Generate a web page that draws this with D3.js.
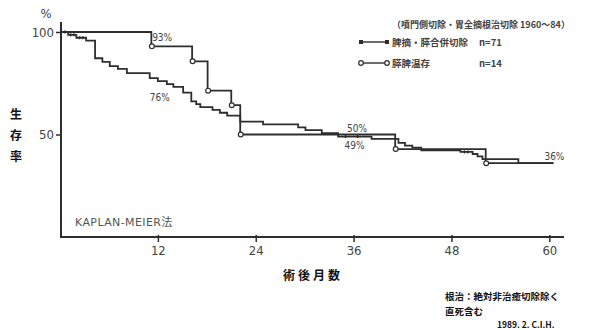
<!DOCTYPE html>
<html>
<head>
<meta charset="utf-8">
<script src="https://cdn.jsdelivr.net/npm/d3@7"></script>
<style>
  html, body { margin: 0; padding: 0; background: #fff; }
  svg { display: block; }
  .num { font-family: "DejaVu Sans Condensed", "Liberation Sans Narrow", "DejaVu Sans", sans-serif; font-stretch: condensed; fill: #444; }
  .jp { font-family: "Noto Sans CJK JP", sans-serif; font-weight: 700; fill: #111; }
  .jpg { font-family: "Noto Sans CJK JP", sans-serif; font-weight: 700; fill: #444; }
</style>
</head>
<body>
<svg id="chart" width="592" height="330"></svg>
<script>
// Kaplan-Meier survival after resection (months, survival %)
const xTicks = [12, 24, 36, 48, 60];
const yTicks = [100, 50];

// 脾摘・膵合併切除 n=71 : [month of step, survival % after step]
const filledSteps = [
  [0, 100], [1.0, 98.6], [2.0, 97.2], [3.2, 95.8], [4.3, 87.2], [5.2, 85.4],
  [6.1, 83.4], [7.1, 82.0], [8.2, 79.9], [11.0, 77.5], [12.0, 76.0],
  [13.1, 74.6], [13.9, 73.2], [15.1, 70.4], [16.1, 66.2], [16.7, 64.8],
  [17.2, 63.4], [18.7, 62.0], [19.6, 60.6], [20.5, 59.2], [22.1, 56.3],
  [24.9, 54.9], [29.2, 53.5], [30.1, 52.1], [32.1, 50.7], [34.1, 49.0],
  [38.2, 47.9], [41.5, 45.9], [42.3, 44.6], [43.2, 43.6], [44.3, 42.3],
  [49.1, 41.5], [50.6, 40.5], [51.2, 39.3], [51.8, 38.0], [56.2, 36.0]
];
const filledCensor = [0.6, 1.3, 1.7, 2.4, 2.8, 35.0, 36.5, 49.6, 50.0];

// 膵脾温存 n=14
const openSteps = [
  [0, 100], [11.2, 93], [16.2, 85.7], [18.1, 71.4], [21.0, 64.3],
  [22.1, 50], [41.1, 42.9], [52.2, 36]
];
const followEnd = 60.5;

// value labels: [month, %, text, dy]
const valueLabels = [
  [11.3, 93, "93%", -5],
  [11.0, 76, "76%", 20],
  [35.2, 50, "50%", -3],
  [34.9, 49, "49%", 12],
  [59.4, 36, "36%", -3]
];

const svg = d3.select("#chart");
const x = d3.scaleLinear().domain([0, 61.8]).range([60, 564]);
const y = d3.scaleLinear().domain([0, 100]).range([237, 32]);
const ink = "#2e2e2e";

// axes
const xAxis = d3.axisBottom(x).tickValues(xTicks).tickSize(5).tickPadding(4);
const gx = svg.append("g").attr("transform", `translate(0,${y(0)})`).call(xAxis);
gx.select(".domain").attr("stroke", ink).attr("stroke-width", 2).attr("d", `M${x(0)},0H564`);
gx.selectAll(".tick line").attr("stroke", ink).attr("stroke-width", 1.5).attr("y1", -2);
gx.selectAll(".tick text").attr("class", "num").attr("font-size", 13).attr("fill", "#444");

const yAxis = d3.axisLeft(y).tickValues(yTicks).tickSize(5).tickPadding(2);
const gy = svg.append("g").attr("transform", `translate(${x(0) + 1},0)`).call(yAxis);
gy.select(".domain").attr("stroke", ink).attr("stroke-width", 2).attr("d", `M0,22V${y(0)}`);
gy.selectAll(".tick line").attr("stroke", ink).attr("stroke-width", 1.5);
gy.selectAll(".tick text").attr("class", "num").attr("font-size", 13).attr("fill", "#444");

svg.append("text").attr("class", "num").attr("x", 46).attr("y", 18)
  .attr("text-anchor", "middle").attr("font-size", 13).text("%");

// step paths
function stepPoints(steps) {
  const pts = steps.map(d => [d[0], d[1]]);
  pts.push([followEnd, steps[steps.length - 1][1]]);
  return pts;
}
const line = d3.line().x(d => x(d[0])).y(d => y(d[1])).curve(d3.curveStepAfter);

svg.append("path").datum(stepPoints(filledSteps)).attr("d", line)
  .attr("fill", "none").attr("stroke", ink).attr("stroke-width", 1.8);
svg.append("path").datum(stepPoints(openSteps)).attr("d", line)
  .attr("fill", "none").attr("stroke", ink).attr("stroke-width", 1.8);

// censor marks on the resection curve
function survAt(steps, t) {
  let v = steps[0][1];
  for (const s of steps) if (s[0] <= t) v = s[1];
  return v;
}
svg.append("g").selectAll("line").data(filledCensor).join("line")
  .attr("x1", d => x(d)).attr("x2", d => x(d))
  .attr("y1", d => y(survAt(filledSteps, d)) - 1.5)
  .attr("y2", d => y(survAt(filledSteps, d)) + 1.5)
  .attr("stroke", ink).attr("stroke-width", 1.5);

// open circles at each drop of the preservation curve
svg.append("g").selectAll("circle").data(openSteps.slice(1)).join("circle")
  .attr("cx", d => x(d[0]) + 0.5).attr("cy", d => y(d[1])).attr("r", 2.4)
  .attr("fill", "#fff").attr("stroke", ink).attr("stroke-width", 1.2);

// value labels
svg.append("g").selectAll("text").data(valueLabels).join("text")
  .attr("class", "num").attr("font-size", 10)
  .attr("x", d => x(d[0])).attr("y", d => y(d[1]) + d[3])
  .text(d => d[2]);

// axis titles
const yTitle = ["生", "存", "率"];
svg.append("g").selectAll("text").data(yTitle).join("text")
  .attr("class", "jp").attr("font-size", 12).attr("text-anchor", "middle")
  .attr("x", 16).attr("y", (d, i) => 119 + i * 21).text(d => d);

svg.append("text").attr("class", "jp").attr("font-size", 12)
  .attr("x", 283).attr("y", 280).attr("letter-spacing", 3).text("術後月数");

svg.append("text").attr("font-size", 11).attr("fill", "#555")
  .attr("x", 75).attr("y", 226).attr("letter-spacing", 0.4)
  .style("font-family", "'DejaVu Sans','Noto Sans CJK JP',sans-serif")
  .text("KAPLAN-MEIER法");

// legend
svg.append("text").attr("class", "jpg").attr("font-size", 9)
  .attr("x", 392).attr("y", 28).text("（噴門側切除・胃全摘根治切除 1960〜84）");

const legend = [
  { label: "脾摘・膵合併切除", n: "n=71", open: false, yy: 42 },
  { label: "膵脾温存", n: "n=14", open: true, yy: 63 }
];
const lg = svg.append("g").selectAll("g").data(legend).join("g");
lg.append("line").attr("x1", 361).attr("x2", 387).attr("y1", d => d.yy).attr("y2", d => d.yy)
  .attr("stroke", ink).attr("stroke-width", 1.4);
lg.each(function(d) {
  const g = d3.select(this);
  [361, 387].forEach(cx => {
    if (d.open) {
      g.append("circle").attr("cx", cx).attr("cy", d.yy).attr("r", 2.3)
        .attr("fill", "#fff").attr("stroke", ink).attr("stroke-width", 1.2);
    } else {
      g.append("rect").attr("x", cx - 2).attr("y", d.yy - 2).attr("width", 4).attr("height", 4)
        .attr("fill", ink);
    }
  });
});
lg.append("text").attr("class", "jpg").attr("font-size", 9.5)
  .attr("x", 392).attr("y", d => d.yy + 3.5).text(d => d.label);
lg.append("text").attr("class", "jpg").attr("font-size", 9.5)
  .attr("x", 479).attr("y", d => d.yy + 3.5).text(d => d.n);

// footnote
const notes = [
  ["根治：絶対非治癒切除除く", 445, 300],
  ["直死含む", 445, 315]
];
svg.append("g").selectAll("text").data(notes).join("text")
  .attr("class", "jp").attr("font-size", 9.5)
  .attr("x", d => d[1]).attr("y", d => d[2]).text(d => d[0]);
svg.append("text").attr("class", "jp").attr("font-size", 8.5)
  .attr("x", 497).attr("y", 328).text("1989. 2.  C.I.H.");
</script>
</body>
</html>
